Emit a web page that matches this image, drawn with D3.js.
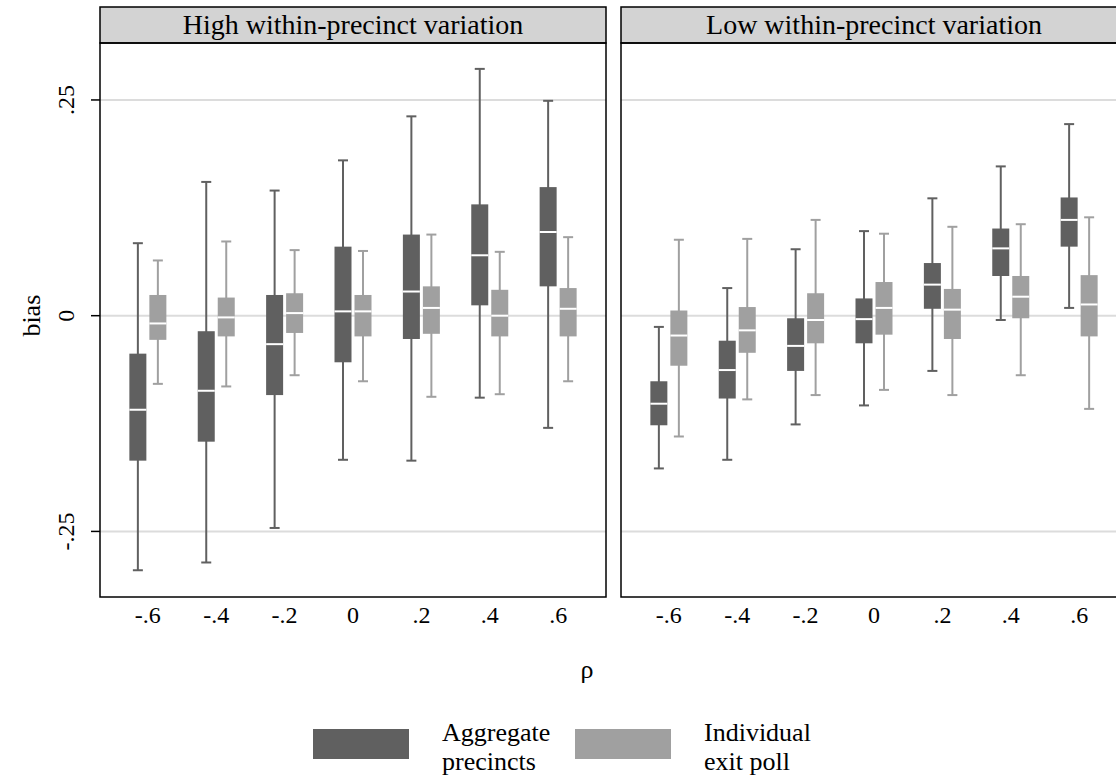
<!DOCTYPE html>
<html>
<head>
<meta charset="utf-8">
<script src="https://cdn.jsdelivr.net/npm/d3@7"></script>
<style>
  body { margin: 0; background: #fff; }
  text { font-family: "Liberation Serif", "DejaVu Serif", serif; fill: #000; }
</style>
</head>
<body>
<div id="chart"></div>
<script>
// rho values on the x axis
const rho = [-0.6, -0.4, -0.2, 0, 0.2, 0.4, 0.6];
const rhoLabels = ["-.6", "-.4", "-.2", "0", ".2", ".4", ".6"];
const yTicks = [-0.25, 0, 0.25];
const yTickLabels = ["-.25", "0", ".25"];
const panelTitles = ["High within-precinct variation", "Low within-precinct variation"];
const seriesNames = [["Aggregate", "precincts"], ["Individual", "exit poll"]];

// each row: [lower whisker, q1, median, q3, upper whisker]
const highAggregate = [
  [-0.295, -0.168, -0.109, -0.044, 0.084],
  [-0.286, -0.146, -0.087, -0.018, 0.155],
  [-0.246, -0.092, -0.033, 0.024, 0.145],
  [-0.167, -0.054, 0.005, 0.080, 0.180],
  [-0.168, -0.027, 0.028, 0.094, 0.231],
  [-0.095, 0.012, 0.070, 0.129, 0.286],
  [-0.130, 0.034, 0.097, 0.149, 0.249]
];
const highIndividual = [
  [-0.079, -0.028, -0.009, 0.024, 0.064],
  [-0.082, -0.024, -0.002, 0.021, 0.086],
  [-0.069, -0.020, 0.003, 0.026, 0.076],
  [-0.076, -0.024, 0.005, 0.024, 0.075],
  [-0.094, -0.021, 0.009, 0.034, 0.094],
  [-0.091, -0.024, 0.000, 0.030, 0.074],
  [-0.076, -0.024, 0.008, 0.032, 0.091]
];
const lowAggregate = [
  [-0.177, -0.127, -0.102, -0.076, -0.013],
  [-0.167, -0.096, -0.063, -0.029, 0.032],
  [-0.126, -0.064, -0.035, -0.003, 0.077],
  [-0.104, -0.032, -0.004, 0.020, 0.098],
  [-0.064, 0.008, 0.036, 0.061, 0.136],
  [-0.005, 0.046, 0.078, 0.101, 0.173],
  [0.009, 0.080, 0.111, 0.137, 0.222]
];
const lowIndividual = [
  [-0.140, -0.058, -0.023, 0.006, 0.088],
  [-0.097, -0.043, -0.017, 0.010, 0.089],
  [-0.092, -0.032, -0.005, 0.026, 0.111],
  [-0.086, -0.022, 0.009, 0.039, 0.095],
  [-0.092, -0.027, 0.007, 0.031, 0.103],
  [-0.069, -0.003, 0.022, 0.046, 0.106],
  [-0.108, -0.024, 0.013, 0.047, 0.114]
];

const panelData = [[highAggregate, highIndividual], [lowAggregate, lowIndividual]];
const colors = ["#606060", "#a0a0a0"];

const W = 1116, H = 779;
const svg = d3.select("#chart").append("svg")
  .attr("width", W)
  .attr("height", H);

const panelLeft = [100, 621];
const panelW = 506;
const plotTop = 43, plotBottom = 597, headTop = 7;

const y = d3.scaleLinear().domain([-0.326, 0.316]).range([plotBottom, plotTop]);

const boxOffset = 10, boxHalf = 8.5, capHalf = 5;

panelData.forEach((series, pi) => {
  const x0 = panelLeft[pi];
  const x = d3.scaleLinear().domain([-0.74, 0.74]).range([x0, x0 + panelW]);
  const g = svg.append("g");

  // header strip
  g.append("rect")
    .attr("x", x0).attr("y", headTop)
    .attr("width", panelW).attr("height", plotTop - headTop)
    .attr("fill", "#d3d3d3").attr("stroke", "#000").attr("stroke-width", 1.5);
  g.append("text")
    .attr("x", x0 + panelW / 2).attr("y", 34)
    .attr("text-anchor", "middle").attr("font-size", 28)
    .text(panelTitles[pi]);

  // gridlines
  g.selectAll(".grid").data(yTicks).join("line")
    .attr("x1", x0).attr("x2", x0 + panelW)
    .attr("y1", d => y(d)).attr("y2", d => y(d))
    .attr("stroke", "#dcdcdc").attr("stroke-width", 2);

  series.forEach((rows, si) => {
    const dx = si === 0 ? -boxOffset : boxOffset;
    const col = colors[si];
    const sg = g.append("g");
    const cx = (d, i) => x(rho[i]) + dx;

    sg.selectAll(".wh").data(rows).join("line")
      .attr("x1", cx).attr("x2", cx)
      .attr("y1", d => y(d[0])).attr("y2", d => y(d[4]))
      .attr("stroke", col).attr("stroke-width", 2);
    [0, 4].forEach(k => {
      sg.selectAll(".cap" + k).data(rows).join("line")
        .attr("x1", (d, i) => cx(d, i) - capHalf).attr("x2", (d, i) => cx(d, i) + capHalf)
        .attr("y1", d => y(d[k])).attr("y2", d => y(d[k]))
        .attr("stroke", col).attr("stroke-width", 2);
    });
    sg.selectAll(".box").data(rows).join("rect")
      .attr("x", (d, i) => cx(d, i) - boxHalf)
      .attr("width", boxHalf * 2)
      .attr("y", d => y(d[3]))
      .attr("height", d => y(d[1]) - y(d[3]))
      .attr("fill", col);
    sg.selectAll(".med").data(rows).join("line")
      .attr("x1", (d, i) => cx(d, i) - boxHalf).attr("x2", (d, i) => cx(d, i) + boxHalf)
      .attr("y1", d => y(d[2])).attr("y2", d => y(d[2]))
      .attr("stroke", "#fff").attr("stroke-width", 2);
  });

  // frame
  g.append("rect")
    .attr("x", x0).attr("y", plotTop)
    .attr("width", panelW).attr("height", plotBottom - plotTop)
    .attr("fill", "none").attr("stroke", "#000").attr("stroke-width", 1.5);

  // x tick labels
  g.selectAll(".xl").data(rho).join("text")
    .attr("x", d => x(d)).attr("y", 623)
    .attr("text-anchor", "middle").attr("font-size", 24)
    .text((d, i) => rhoLabels[i]);

  // y axis on the first panel only
  if (pi === 0) {
    g.selectAll(".yt").data(yTicks).join("line")
      .attr("x1", x0 - 9).attr("x2", x0)
      .attr("y1", d => y(d)).attr("y2", d => y(d))
      .attr("stroke", "#000").attr("stroke-width", 1.5);
    g.selectAll(".yl").data(yTicks).join("text")
      .attr("transform", d => `translate(${x0 - 26},${y(d)}) rotate(-90)`)
      .attr("text-anchor", "middle").attr("font-size", 24)
      .text((d, i) => yTickLabels[i]);
  }
});

// axis titles
svg.append("text")
  .attr("transform", `translate(40,${y(0)}) rotate(-90)`)
  .attr("text-anchor", "middle").attr("font-size", 26)
  .text("bias");
svg.append("text")
  .attr("x", 587).attr("y", 678)
  .attr("text-anchor", "middle").attr("font-size", 26)
  .attr("font-family", "DejaVu Sans")
  .text("ρ");

// legend
const legX = [313, 575];
seriesNames.forEach((lines, i) => {
  svg.append("rect")
    .attr("x", legX[i]).attr("y", 729)
    .attr("width", 96).attr("height", 30)
    .attr("fill", colors[i]);
  lines.forEach((s, k) => {
    svg.append("text")
      .attr("x", legX[i] + 129).attr("y", 741 + k * 29)
      .attr("font-size", 26)
      .text(s);
  });
});
</script>
</body>
</html>
